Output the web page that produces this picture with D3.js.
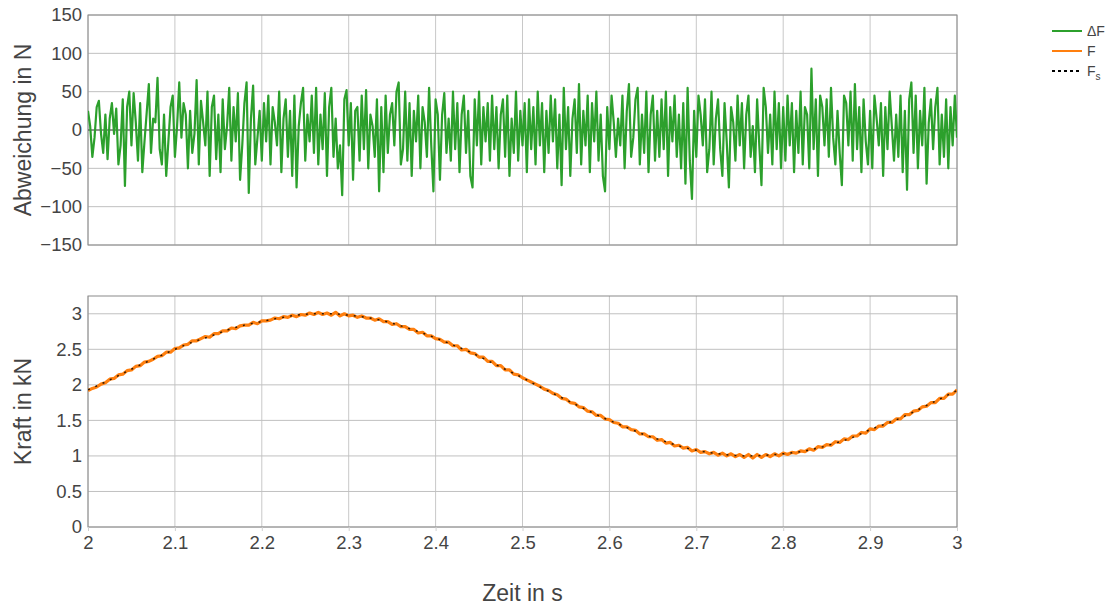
<!DOCTYPE html>
<html>
<head>
<meta charset="utf-8">
<script src="https://cdn.jsdelivr.net/npm/d3@7"></script>
<style>
  body { margin: 0; background: #fff; }
  text { font-family: "Liberation Sans", Arial, sans-serif; fill: #444; }
</style>
</head>
<body>
<div id="chart"></div>
<script>
// x values: time in s (sampled)
var dfStart = 2, dfStep = 0.0025;
// deviation ΔF in N, one value per 2.5 ms
var deltaF = [
  25, 5, -35, -10, 30, 38, -5, -30, 20, -38, 15, 35, -5, 28, -45, -20, 40, -73, 30, 50,
  -20, 48, 10, -40, 35, -55, -15, 22, 60, -30, 15, 10, 68, -25, -45, 20, -60, -15, 30, 45,
  -35, 5, 62, -10, 35, 20, -50, 25, -30, -5, 65, -45, 38, 10, -20, 50, -60, 30, 45, -38,
  20, -55, 40, -25, 5, 55, -40, 30, -15, 48, -65, -20, 35, 62, -82, 15, 58, -45, -10, 25,
  -40, 35, -15, 45, -45, 30, 10, -20, 50, -55, 15, 40, -35, 25, -60, 45, -75, 5, 35, 55,
  -40, 20, -15, 45, -30, 55, -45, 20, -25, 48, -60, 30, 55, -35, 15, -50, -20, -85, 40, 52,
  -20, 35, -65, 25, 30, -40, 45, -25, 52, -50, 20, 5, -35, 40, -80, 30, -55, 45, -30, 20,
  35, -20, 50, 62, -45, -25, 50, -40, 35, -60, 25, -15, 45, -50, 30, 10, -35, 55, -20, -80,
  40, 20, -65, 20, 48, -30, 15, -40, 50, -25, 35, -55, 20, 45, -30, 25, -60, -75, 40, -20,
  50, -45, 30, -15, 35, -40, 45, -25, 30, -50, 20, 40, -35, 45, -60, 15, -30, 50, -40, 25,
  -20, 35, -55, 40, -25, 30, -45, 50, -20, 35, -55, 25, -30, 45, -15, 40, -50, 20, -72, 55,
  -25, 30, -60, 15, 40, -30, 60, -45, 25, -20, 45, -55, 35, -15, 50, -40, 20, -60, -80, 30,
  -25, 45, 10, -35, 15, -20, 45, -50, 25, 60, -35, -10, 40, 55, -45, 20, -30, 50, -55, 20,
  45, -40, 25, -35, 40, -25, 50, -60, 30, -15, 45, -35, 20, -50, 35, -70, 55, -40, -90, 25,
  -35, 45, 20, -20, 40, -55, -25, 50, -45, 15, 40, -25, -60, 35, -15, -75, 30, 10, -40, 45,
  -20, 35, -50, 20, 45, -35, 5, -55, 40, -20, -72, 55, 30, -30, 20, -45, 50, -25, 35, -50,
  30, -40, 45, -20, 35, -55, 25, -30, 50, -45, 30, 20, -50, 80, -25, 40, -60, 45, 30, -20,
  40, -35, 55, -10, -45, 25, -30, -72, 45, 35, -20, 50, -40, 60, -25, 30, -55, 40, -15, -45,
  25, -50, 45, 15, -20, 35, -60, 30, -25, 50, 5, -40, 20, -35, 45, -55, 25, -78, 40, 62,
  -30, 45, -50, 25, -20, 55, -70, 10, 40, -25, 30, 55, -45, 20, -35, 40, -50, 30, -20, 45,
  -10
];

// measured force F in kN, one value per 5 ms
var fStart = 2, fStep = 0.005;
var force = [
  1.92, 1.95, 1.97, 2.01, 2.03, 2.08, 2.09, 2.14, 2.15, 2.20, 2.21, 2.26, 2.27, 2.32, 2.33, 2.36, 2.40, 2.41, 2.46, 2.46,
  2.51, 2.52, 2.56, 2.57, 2.62, 2.62, 2.65, 2.68, 2.67, 2.72, 2.72, 2.76, 2.76, 2.80, 2.79, 2.83, 2.84, 2.84, 2.88, 2.86,
  2.90, 2.90, 2.91, 2.94, 2.93, 2.96, 2.95, 2.98, 2.96, 2.99, 2.98, 3.01, 2.99, 3.02, 2.99, 3.01, 2.98, 3.02, 2.97, 3.00,
  2.97, 2.98, 2.95, 2.97, 2.94, 2.94, 2.91, 2.93, 2.89, 2.89, 2.85, 2.86, 2.82, 2.82, 2.78, 2.78, 2.73, 2.74, 2.69, 2.69,
  2.65, 2.64, 2.60, 2.60, 2.55, 2.55, 2.49, 2.50, 2.45, 2.44, 2.39, 2.39, 2.33, 2.33, 2.27, 2.27, 2.21, 2.21, 2.15, 2.14,
  2.10, 2.07, 2.04, 2.01, 1.98, 1.94, 1.92, 1.88, 1.86, 1.81, 1.80, 1.75, 1.74, 1.69, 1.68, 1.63, 1.62, 1.57, 1.57, 1.52,
  1.51, 1.47, 1.46, 1.41, 1.41, 1.37, 1.36, 1.31, 1.31, 1.27, 1.27, 1.22, 1.23, 1.18, 1.19, 1.14, 1.15, 1.11, 1.12, 1.07,
  1.09, 1.05, 1.06, 1.03, 1.05, 1.01, 1.04, 1.00, 1.03, 0.99, 1.02, 0.98, 1.02, 0.97, 1.02, 0.98, 1.02, 0.99, 1.03, 1.00,
  1.04, 1.02, 1.05, 1.04, 1.07, 1.06, 1.10, 1.08, 1.13, 1.12, 1.16, 1.15, 1.20, 1.19, 1.24, 1.23, 1.28, 1.28, 1.33, 1.32,
  1.38, 1.37, 1.42, 1.42, 1.47, 1.47, 1.52, 1.52, 1.58, 1.58, 1.63, 1.64, 1.69, 1.70, 1.75, 1.75, 1.81, 1.81, 1.87, 1.87,
  1.93
];

// set force Fs in kN, one value per 20 ms
var fsStart = 2, fsStep = 0.02;
var forceSet = [
  1.93, 2.04, 2.16, 2.28, 2.39, 2.50, 2.60, 2.68, 2.77, 2.84,
  2.89, 2.94, 2.98, 3.00, 3.00, 2.98, 2.95, 2.90, 2.83, 2.75,
  2.66, 2.56, 2.46, 2.34, 2.22, 2.10, 1.97, 1.85, 1.73, 1.61,
  1.50, 1.40, 1.30, 1.22, 1.14, 1.08, 1.04, 1.01, 1.00, 1.01,
  1.03, 1.06, 1.11, 1.18, 1.26, 1.37, 1.46, 1.56, 1.68, 1.80,
  1.92
];

var xTicks = [2, 2.1, 2.2, 2.3, 2.4, 2.5, 2.6, 2.7, 2.8, 2.9, 3];
var topTicks = [-150, -100, -50, 0, 50, 100, 150];
var botTicks = [0, 0.5, 1, 1.5, 2, 2.5, 3];

var W = 1115, H = 605;
var left = 88, right = 957;
var top1 = 15, bot1 = 245;
var top2 = 296, bot2 = 527;

var svg = d3.select("#chart").append("svg")
  .attr("width", W).attr("height", H);

var x = d3.scaleLinear().domain([2, 3]).range([left, right]);
var y1 = d3.scaleLinear().domain([-150, 150]).range([bot1, top1]);
var y2 = d3.scaleLinear().domain([0, 3.25]).range([bot2, top2]);

var defs = svg.append("defs");
defs.append("clipPath").attr("id", "clip1").append("rect")
  .attr("x", left).attr("y", top1).attr("width", right - left).attr("height", bot1 - top1);
defs.append("clipPath").attr("id", "clip2").append("rect")
  .attr("x", left).attr("y", top2).attr("width", right - left).attr("height", bot2 - top2);

function panel(y, yTicks, y0, y1px) {
  var g = svg.append("g");
  // vertical grid
  g.selectAll(".vg").data(xTicks).enter().append("line")
    .attr("x1", function(d) { return x(d); }).attr("x2", function(d) { return x(d); })
    .attr("y1", y1px).attr("y2", y0)
    .style("stroke", "#c8c8c8").style("stroke-width", 1);
  // horizontal grid
  g.selectAll(".hg").data(yTicks).enter().append("line")
    .attr("x1", left).attr("x2", right)
    .attr("y1", function(d) { return y(d); }).attr("y2", function(d) { return y(d); })
    .style("stroke", "#c0c0c0").style("stroke-width", 1);
  // frame
  g.append("rect")
    .attr("x", left).attr("y", y1px).attr("width", right - left).attr("height", y0 - y1px)
    .style("fill", "none").style("stroke", "#8a8a8a").style("stroke-width", 1);
  // y tick labels
  var ax = g.append("g")
    .attr("transform", "translate(" + left + ",0)")
    .call(d3.axisLeft(y).tickValues(yTicks).tickSize(0).tickPadding(6).tickFormat(d3.format("")));
  ax.select(".domain").remove();
  ax.selectAll("text").style("font-size", "18.5px").style("fill", "#444")
    .style("font-family", "'Liberation Sans', Arial, sans-serif");
  return g;
}

var g1 = panel(y1, topTicks, bot1, top1);
var g2 = panel(y2, botTicks, bot2, top2);

// zero line in the top plot
g1.append("line")
  .attr("x1", left).attr("x2", right).attr("y1", y1(0)).attr("y2", y1(0))
  .style("stroke", "#444").style("stroke-width", 1);

// x tick labels below the lower plot
var xa = svg.append("g")
  .attr("transform", "translate(0," + bot2 + ")")
  .call(d3.axisBottom(x).tickValues(xTicks).tickSize(4).tickPadding(5).tickFormat(d3.format("")));
xa.select(".domain").remove();
xa.selectAll("line").style("stroke", "#d0d0d0");
xa.selectAll("text").style("font-size", "18.5px").style("fill", "#444")
  .style("font-family", "'Liberation Sans', Arial, sans-serif");

// lines
var dfLine = d3.line()
  .x(function(d, i) { return x(dfStart + i * dfStep); })
  .y(function(d) { return y1(d); });
svg.append("path").datum(deltaF)
  .attr("clip-path", "url(#clip1)")
  .attr("d", dfLine)
  .style("fill", "none").style("stroke", "#2ca02c").style("stroke-width", 2.2)
  .style("stroke-linejoin", "round");

var fLine = d3.line()
  .x(function(d, i) { return x(fStart + i * fStep); })
  .y(function(d) { return y2(d); });
svg.append("path").datum(force)
  .attr("clip-path", "url(#clip2)")
  .attr("d", fLine)
  .style("fill", "none").style("stroke", "#ff7f0e").style("stroke-width", 3.2)
  .style("stroke-linejoin", "round");

var fsLine = d3.line()
  .x(function(d, i) { return x(fsStart + i * fsStep); })
  .y(function(d) { return y2(d); })
  .curve(d3.curveMonotoneX);
svg.append("path").datum(forceSet)
  .attr("clip-path", "url(#clip2)")
  .attr("d", fsLine)
  .style("fill", "none").style("stroke", "#000").style("stroke-width", 1.5)
  .style("stroke-dasharray", "2,6").style("opacity", 0.8);

// axis titles
svg.append("text")
  .attr("transform", "translate(31," + ((top1 + bot1) / 2) + ") rotate(-90)")
  .attr("text-anchor", "middle")
  .style("font-size", "23px")
  .text("Abweichung in N");
svg.append("text")
  .attr("transform", "translate(31," + ((top2 + bot2) / 2) + ") rotate(-90)")
  .attr("text-anchor", "middle")
  .style("font-size", "23px")
  .text("Kraft in kN");
svg.append("text")
  .attr("x", (left + right) / 2).attr("y", 601)
  .attr("text-anchor", "middle")
  .style("font-size", "23px")
  .text("Zeit in s");

// legend
var legendItems = [
  { name: "ΔF", color: "#2ca02c", dash: null, w: 2 },
  { name: "F", color: "#ff7f0e", dash: null, w: 2 },
  { name: "F", sub: "s", color: "#000", dash: "3,3", w: 2 }
];
var lg = svg.append("g").attr("transform", "translate(1052,31)");
legendItems.forEach(function(d, i) {
  var row = lg.append("g").attr("transform", "translate(0," + (i * 20) + ")");
  row.append("line").attr("x1", 0).attr("x2", 30).attr("y1", 0).attr("y2", 0)
    .style("stroke", d.color).style("stroke-width", d.w)
    .style("stroke-dasharray", d.dash);
  var t = row.append("text").attr("x", 35).attr("y", 5).style("font-size", "14px").text(d.name);
  if (d.sub) t.append("tspan").attr("dy", 4).style("font-size", "10px").text(d.sub);
});
</script>
</body>
</html>
